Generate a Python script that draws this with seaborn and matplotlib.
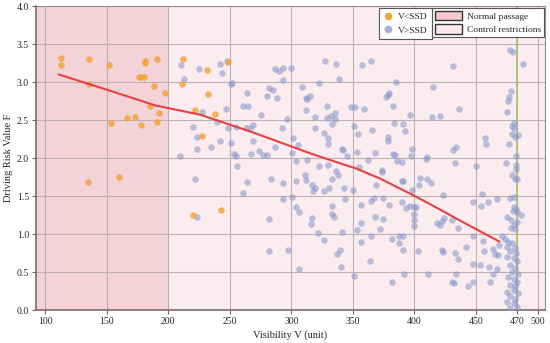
import pandas as pd
import matplotlib
matplotlib.use("Agg")
import matplotlib.pyplot as plt
from matplotlib.patches import Patch
from matplotlib.lines import Line2D
import seaborn as sns

# Data (V in axis units, F risk value)
orange_v = [112.7, 113.3, 136.0, 135.7, 152.2, 153.6, 166.4, 173.1, 177.7, 176.1, 178.2,
            180.4, 181.2, 181.2, 191.2, 188.5, 197.5, 185.3, 192.4, 190.7, 212.3, 211.0,
            221.8, 135.2, 159.9, 220.5, 231.8, 248.4, 232.1, 238.1, 227.3, 243.2]
orange_f = [3.32, 3.23, 3.30, 2.98, 3.23, 2.46, 2.53, 2.54, 2.43, 3.06, 3.06,
            3.07, 3.25, 3.28, 3.30, 2.95, 2.86, 2.68, 2.59, 2.47, 3.30, 2.98,
            2.63, 1.69, 1.75, 1.25, 3.16, 3.26, 2.84, 2.58, 2.29, 1.31]

blue_points = [
    (210.5, 3.23), (213.2, 3.04), (220.0, 2.41), (223.7, 2.28), (223.2, 2.12), (209.7, 2.03),
    (225.3, 3.17), (221.6, 1.72), (223.2, 1.22),
    (242.1, 3.24), (244.0, 3.12), (247.6, 3.28), (251.1, 2.97), (252.2, 2.99), (264.3, 2.85),
    (261.1, 2.68), (265.2, 2.68), (247.0, 2.64), (227.3, 2.61), (239.4, 2.48), (248.9, 2.39),
    (254.9, 2.41), (263.0, 2.39), (266.5, 2.40), (268.7, 2.43), (275.4, 2.57), (282.2, 2.92),
    (285.5, 2.89), (280.0, 2.82), (288.2, 2.79), (287.1, 3.17), (290.1, 3.15), (293.6, 3.18),
    (299.5, 3.19), (293.6, 3.03), (296.8, 2.51), (292.8, 2.40), (309.0, 2.93), (312.5, 2.77),
    (311.7, 2.79), (315.2, 2.81), (311.7, 2.63), (319.3, 2.54), (301.7, 2.26), (305.2, 2.17),
    (300.3, 2.07), (286.8, 2.14), (269.2, 2.22), (250.8, 2.20), (242.1, 2.22), (234.8, 2.15),
    (253.8, 2.05), (255.1, 2.02), (267.3, 2.05), (274.1, 2.09), (276.8, 2.04), (280.6, 2.04),
    (256.2, 1.90), (264.3, 1.68), (261.1, 1.54), (283.3, 1.73), (293.0, 1.67), (293.6, 1.46),
    (304.1, 1.96), (312.5, 1.97), (303.9, 1.70), (311.7, 1.71), (311.2, 1.78), (317.1, 1.64),
    (317.9, 1.57), (300.9, 1.49), (303.9, 1.35), (306.3, 1.29), (316.9, 1.21), (315.8, 1.13),
    (281.7, 1.20), (281.7, 0.78), (297.6, 0.79), (306.3, 0.54),
    (327.4, 3.27), (336.1, 3.24), (357.2, 3.22), (364.5, 3.27), (338.3, 3.04), (322.5, 2.99),
    (384.8, 3.00), (379.4, 2.86), (376.7, 2.80), (378.3, 2.83), (382.4, 2.68), (396.5, 2.56),
    (348.5, 2.67), (351.8, 2.67), (358.6, 2.64), (328.8, 2.69), (335.5, 2.59), (332.3, 2.55),
    (329.3, 2.52), (332.8, 2.45), (335.5, 2.51), (319.3, 2.39), (326.9, 2.33), (330.1, 2.26),
    (330.1, 2.19), (351.0, 2.42), (354.5, 2.32), (365.3, 2.37), (383.2, 2.46), (391.0, 2.45),
    (391.9, 2.36), (378.3, 2.28), (378.3, 2.22), (341.0, 2.12), (342.3, 2.10), (345.0, 2.02),
    (353.7, 2.08), (368.0, 2.06), (382.4, 2.05), (384.3, 2.04), (397.8, 2.12), (397.3, 2.03),
    (410.0, 2.01),
    (322.8, 1.89), (330.1, 1.91), (336.1, 1.83), (337.7, 1.78), (333.4, 1.72), (319.3, 1.60),
    (326.9, 1.57), (330.7, 1.60), (343.1, 1.60), (350.4, 1.58), (343.7, 1.46), (354.8, 1.88),
    (362.6, 1.98), (373.4, 1.84), (373.4, 1.82), (368.6, 1.64), (385.6, 1.96), (390.2, 1.95),
    (390.2, 1.70), (391.0, 1.70), (397.8, 1.58), (404.6, 1.74), (410.0, 1.72), (403.8, 1.65),
    (409.7, 1.99), (333.1, 1.37), (332.8, 1.26), (335.0, 1.22), (356.4, 1.38), (364.8, 1.44),
    (367.5, 1.47), (374.8, 1.47), (378.9, 1.38), (390.2, 1.42), (392.9, 1.34), (396.5, 1.37),
    (400.0, 1.36), (401.3, 1.35), (400.0, 1.26), (399.2, 1.18), (400.0, 1.11), (368.0, 1.23),
    (374.3, 1.20), (372.1, 1.07), (356.7, 1.15), (353.1, 1.05), (321.5, 1.01), (326.6, 0.92),
    (341.0, 1.03), (364.8, 0.97), (356.4, 0.90), (382.1, 0.93), (387.5, 0.98), (391.0, 0.98),
    (387.5, 0.88), (391.0, 0.79), (339.6, 0.79), (336.9, 0.74), (340.4, 0.57), (364.0, 0.64),
    (403.2, 0.77), (351.0, 0.45), (382.1, 0.37), (391.6, 0.47), (411.3, 0.48),
    (477.7, 3.42), (479.6, 3.39), (488.0, 3.24), (431.6, 3.21), (414.9, 2.93), (478.5, 2.88),
    (477.1, 2.80), (475.8, 2.75), (475.0, 2.60), (436.0, 2.64), (414.0, 2.54), (420.8, 2.55),
    (480.4, 2.46), (479.3, 2.42), (480.4, 2.40), (479.3, 2.32), (481.2, 2.28), (484.2, 2.30),
    (457.4, 2.26), (458.2, 2.19), (476.9, 2.18), (433.8, 2.15), (431.1, 2.11), (482.5, 2.03),
    (433.0, 1.94), (450.1, 1.89), (474.4, 1.94), (482.5, 1.86), (482.5, 1.91), (479.0, 1.77),
    (481.7, 1.73), (483.6, 1.72), (423.5, 1.51), (447.3, 1.42), (454.7, 1.52), (454.1, 1.37),
    (459.5, 1.42), (466.8, 1.46), (477.7, 1.48), (480.9, 1.49), (480.4, 1.36), (482.5, 1.33),
    (479.8, 1.30), (483.6, 1.29), (486.3, 1.25), (475.5, 1.23), (478.5, 1.18), (480.4, 1.12),
    (478.5, 1.08), (483.6, 1.16), (481.7, 1.07), (418.1, 1.14), (420.8, 1.12), (424.1, 1.21),
    (422.2, 1.17), (430.3, 1.18), (435.7, 1.08), (447.9, 0.98), (455.5, 0.91), (441.9, 0.83),
    (422.2, 0.79), (423.0, 0.76), (432.5, 0.75), (435.7, 0.67), (456.6, 0.77), (464.1, 0.80),
    (465.5, 0.74), (468.2, 0.73), (413.2, 1.67), (471.0, 0.97), (469.0, 0.85),
    (473.6, 0.94), (476.3, 0.90), (479.0, 0.88), (475.5, 0.83), (481.7, 0.81), (477.7, 0.77),
    (482.5, 0.75), (475.0, 0.70), (480.4, 0.68), (483.6, 0.64), (477.7, 0.59), (481.7, 0.55),
    (479.0, 0.50), (484.4, 0.48), (476.3, 0.44), (480.4, 0.41), (483.6, 0.37), (477.7, 0.33),
    (481.7, 0.31), (480.4, 0.26), (475.5, 0.24), (484.4, 0.22), (477.7, 0.18), (481.7, 0.14),
    (475.0, 0.11), (480.4, 0.09), (483.6, 0.04), (477.7, 0.02),
    (447.9, 0.60), (453.3, 0.59), (460.1, 0.57), (466.8, 0.54), (464.1, 0.48), (433.8, 0.47),
    (430.3, 0.37), (431.7, 0.35), (447.9, 0.37), (443.3, 0.31), (461.4, 0.37),
]
blue_v = [p[0] for p in blue_points]
blue_f = [p[1] for p in blue_points]

# fitted trend (red line)
trend_v = [111, 150, 190, 226, 270, 319, 353, 372, 399, 413, 440, 469]
trend_f = [3.10, 2.90, 2.69, 2.57, 2.33, 2.04, 1.86, 1.73, 1.51, 1.39, 1.15, 0.90]

x_ticks = [100, 150, 200, 250, 300, 350, 400, 450, 483, 500]
x_labels = ['100', '150', '200', '250', '300', '350', '400', '450', '470', '500']
limit_v = 483  # position of the "470" mark
split_v = 200

df = pd.DataFrame({
    'V': orange_v + blue_v,
    'F': orange_f + blue_f,
    'group': ['V<SSD'] * len(orange_v) + ['V>SSD'] * len(blue_v),
})
trend = pd.DataFrame({'V': trend_v, 'F': trend_f})

sns.set_theme(style='white')
plt.rcParams['font.family'] = ['Liberation Serif', 'DejaVu Serif']

fig = plt.figure(figsize=(5.5, 3.43), dpi=100)
ax = fig.add_axes([0.0655, 0.0962, 0.9255, 0.8863])

ax.set_xlim(92.7, 506)
ax.set_ylim(0, 4)
ax.axvspan(92.7, split_v, color='#f3d3d8', zorder=0)
ax.axvspan(split_v, 506, color='#fbedef', zorder=0)

ax.set_xticks(x_ticks)
ax.set_xticklabels(x_labels)
ax.set_yticks([0, 0.5, 1, 1.5, 2, 2.5, 3, 3.5, 4])
ax.set_yticklabels(['%.1f' % t for t in [0, 0.5, 1, 1.5, 2, 2.5, 3, 3.5, 4]])
ax.grid(True, color='#bfb0b4', linewidth=0.8, zorder=1)
ax.set_axisbelow(True)

sns.scatterplot(data=df[df.group == 'V>SSD'], x='V', y='F', color='#8c9acb', alpha=0.6,
                s=22, linewidth=0, ax=ax, zorder=3, legend=False)
sns.scatterplot(data=df[df.group == 'V<SSD'], x='V', y='F', color='#f4a43c', alpha=0.85,
                s=22, linewidth=0, ax=ax, zorder=4, legend=False)
sns.lineplot(data=trend, x='V', y='F', color='#e8403f', linewidth=1.5, ax=ax, zorder=5)
ax.axvline(limit_v, color='#a8c47a', linewidth=1.3, zorder=2)

ax.set_xlabel('Visibility V (unit)', fontsize=7.5, labelpad=3)
ax.set_ylabel('Driving Risk Value F', fontsize=7.5, labelpad=3)
ax.tick_params(axis='both', labelsize=7, length=3, width=0.8, color='#6e5e60', pad=2,
               bottom=True, left=True)
for side in ['left', 'bottom']:
    ax.spines[side].set_color('#7d6a6c')
    ax.spines[side].set_linewidth(1.2)
for side in ['top', 'right']:
    ax.spines[side].set_color('#9a8a8c')
    ax.spines[side].set_linewidth(0.8)

h1 = [Line2D([], [], marker='o', linestyle='', color='#f4a43c', markersize=4.5),
      Line2D([], [], marker='o', linestyle='', color='#a7b0d6', markersize=4.5)]
leg1 = ax.legend(h1, ['V<SSD', 'V>SSD'], loc='upper right', bbox_to_anchor=(0.778, 0.993),
                 fontsize=6.8, frameon=True, fancybox=False, framealpha=1,
                 edgecolor='#555555', handlelength=1.0, handletextpad=0.6,
                 borderpad=0.45, labelspacing=0.55, borderaxespad=0)
leg1.get_frame().set_linewidth(0.8)
leg1.set_zorder(10)
ax.add_artist(leg1)

h2 = [Patch(facecolor='#f4c9cf', edgecolor='#333333', linewidth=1.0),
      Patch(facecolor='#fbe9ec', edgecolor='#333333', linewidth=1.0)]
leg2 = ax.legend(h2, ['Normal passage', 'Control restrictions'], loc='upper right',
                 bbox_to_anchor=(0.998, 0.993), fontsize=6.8, frameon=True, fancybox=False,
                 framealpha=1, edgecolor='#555555', handlelength=2.9, handleheight=1.15,
                 handletextpad=0.5, borderpad=0.3, labelspacing=0.35, borderaxespad=0)
leg2.get_frame().set_linewidth(0.8)
leg2.set_zorder(10)

fig.savefig('out.png', dpi=100)
